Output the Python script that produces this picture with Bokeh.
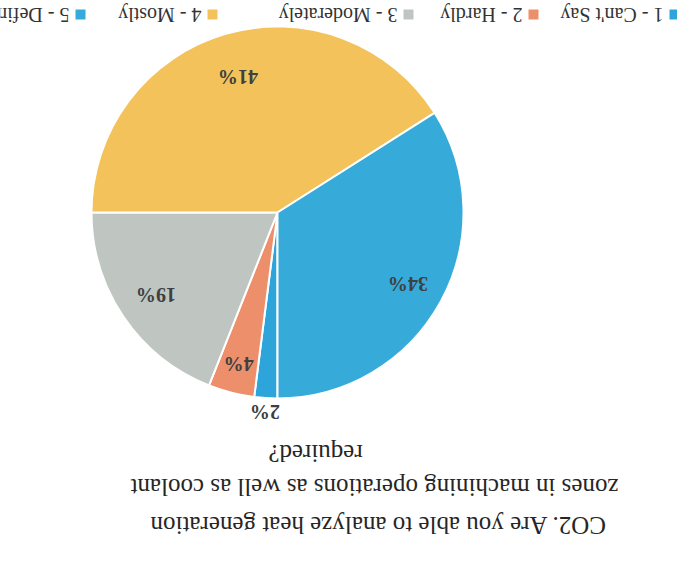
import math
from bokeh.plotting import figure
from bokeh.models import Range1d, ColumnDataSource
from bokeh.core.properties import value
from bokeh.embed import file_html
from bokeh.resources import INLINE

# ---- data ----
categories = ["1 - Can't Say", "2 - Hardly", "3 - Moderately", "4 - Mostly", "5 - Definitely"]
percents = [2, 4, 19, 41, 34]
title_lines = ["CO2. Are you able to analyze heat generation",
               "zones in machining operations as well as coolant",
               "required?"]

# ---- styles / layout (image shown rotated 180 degrees) ----
colors = ["#2EA5DA", "#EE8F6C", "#BFC6C2", "#F4C25A", "#36ABDA"]
W, H = 677, 547
cx, cy, r = 277, -212, 186
label_factor = [1.075, 0.84, 0.79, 0.76, 0.80]
title_pos = [(377, -525), (374, -487), (315, -453)]
legend_marker_x = [674, 533, 408, 212, 80]
legend_y = -14
FONT = "Liberation Serif"

p = figure(width=W, height=H, output_backend="svg", toolbar_location=None,
           x_range=Range1d(0, W), y_range=Range1d(-H, 0),
           min_border=0, outline_line_color=None, background_fill_color="white",
           border_fill_color="white")
p.axis.visible = False
p.grid.visible = False

total = float(sum(percents))
starts, ends, lx, ly, labels = [], [], [], [], []
cum = 0.0
for i, v in enumerate(percents):
    a0 = cum / total
    a1 = (cum + v) / total
    cum += v
    starts.append(-math.pi / 2 - 2 * math.pi * a1)
    ends.append(-math.pi / 2 - 2 * math.pi * a0)
    mid = -math.pi / 2 - 2 * math.pi * (a0 + a1) / 2
    f = label_factor[i]
    lx.append(cx + f * r * math.cos(mid))
    ly.append(cy + f * r * math.sin(mid))
    labels.append(f"{v}%")

src = ColumnDataSource(dict(start=starts, end=ends, color=colors, lx=lx, ly=ly, label=labels))
p.wedge(x=cx, y=cy, radius=r, start_angle="start", end_angle="end", direction="anticlock",
        fill_color="color", line_color="white", line_width=2, source=src)

p.text(x="lx", y="ly", text="label", source=src, angle=math.pi,
       text_align="center", text_baseline="middle",
       text_font=value(FONT), text_font_size="20px", text_font_style="bold",
       text_color="#404040")

# title (upside down)
p.text(x=[t[0] for t in title_pos], y=[t[1] for t in title_pos], text=title_lines,
       angle=math.pi, text_align="center", text_baseline="middle",
       text_font=value(FONT), text_font_size="25px", text_color="#262626")

# legend (upside down)
p.scatter(x=legend_marker_x, y=[legend_y] * 5, marker="square", size=10,
          fill_color=colors, line_color=None)
p.text(x=[m - 11 for m in legend_marker_x], y=[legend_y] * 5, text=categories,
       angle=math.pi, text_align="left", text_baseline="middle",
       text_font=value(FONT), text_font_size="20px", text_color="#333333")

open("out.html", "w").write(file_html(p, INLINE))
